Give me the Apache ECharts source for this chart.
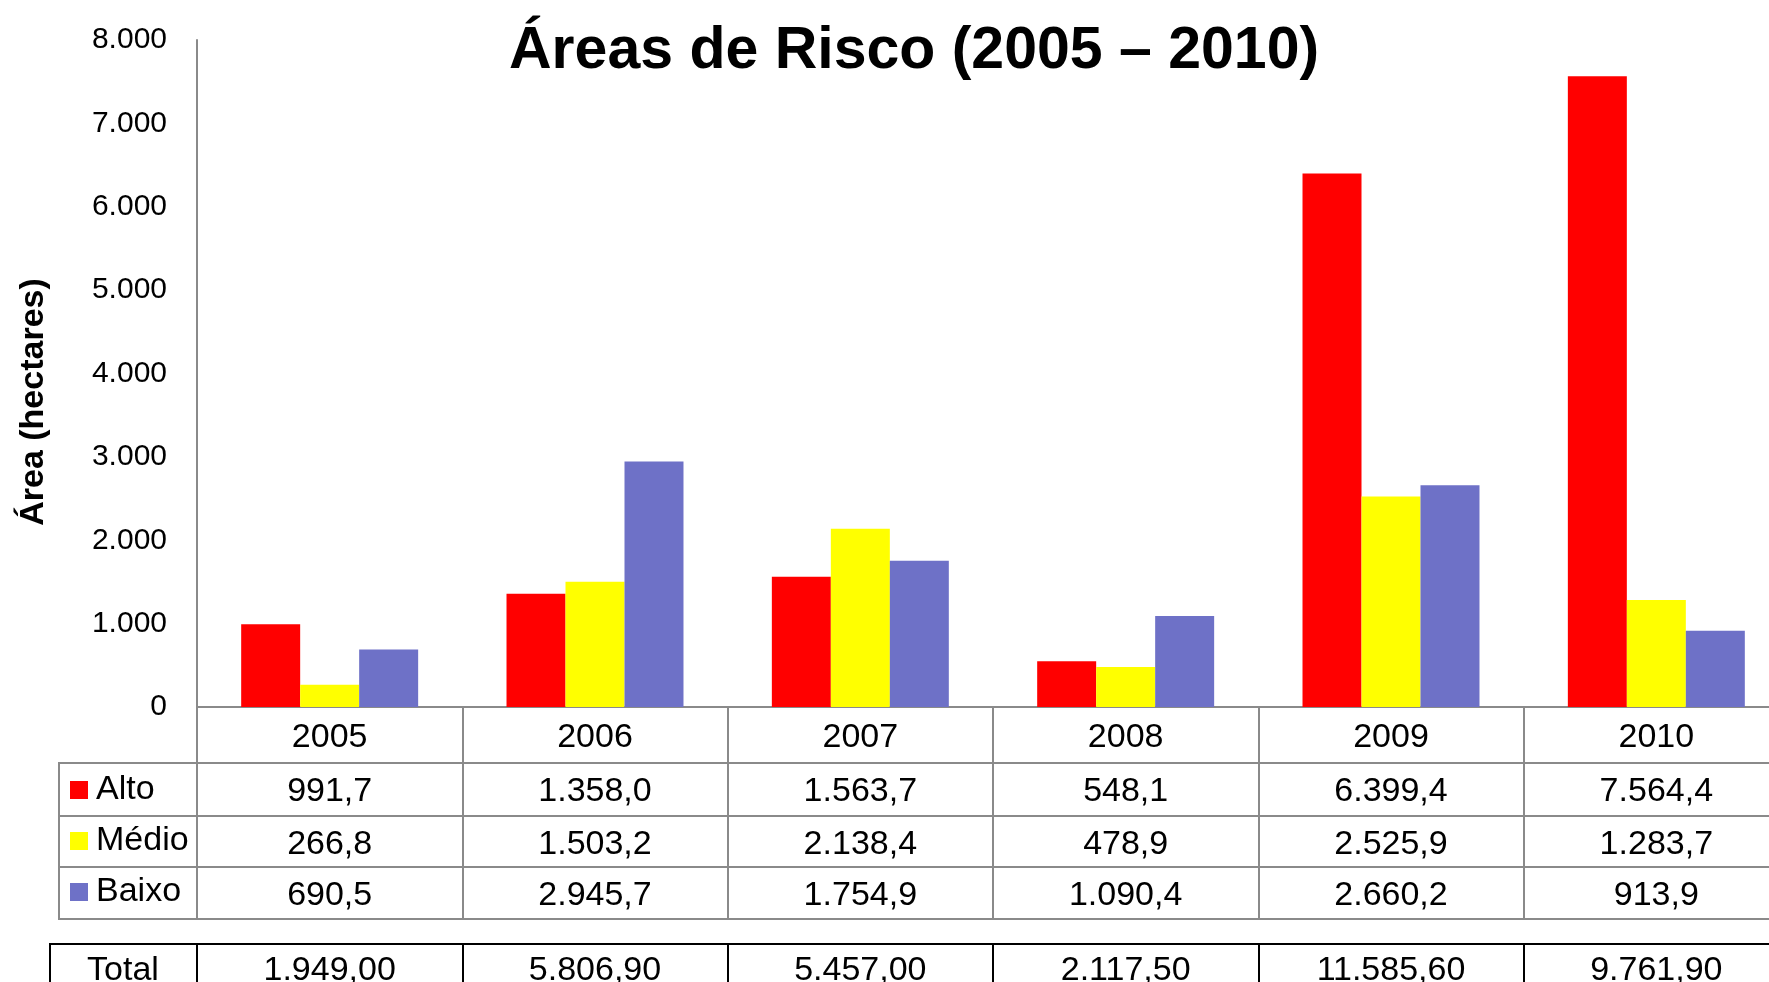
<!DOCTYPE html>
<html>
<head>
<meta charset="utf-8">
<title>Áreas de Risco (2005 – 2010)</title>
<script src="https://cdn.jsdelivr.net/npm/echarts@6/dist/echarts.min.js"></script>
<style>
    html, body { margin: 0; padding: 0; background: #fff; }
    #chart { width: 1769px; height: 982px; }
</style>
</head>
<body>
<div id="chart"></div>
<script>
// data
const years = ['2005', '2006', '2007', '2008', '2009', '2010'];
const alto = [991.7, 1358.0, 1563.7, 548.1, 6399.4, 7564.4];
const medio = [266.8, 1503.2, 2138.4, 478.9, 2525.9, 1283.7];
const baixo = [690.5, 2945.7, 1754.9, 1090.4, 2660.2, 913.9];
const totals = [1949.00, 5806.90, 5457.00, 2117.50, 11585.60, 9761.90];
const seriesNames = ['Alto', 'Médio', 'Baixo'];

const FONT = '"Liberation Sans", Arial, sans-serif';
const GRAY = '#8a8a8a';

// pt-BR number format: 1.358,0
function fmtBR(v, d) {
    let parts = v.toFixed(d).split('.');
    let i = parts[0].replace(/\B(?=(\d{3})+(?!\d))/g, '.');
    return parts[1] ? i + ',' + parts[1] : i;
}

// one table row = one extra category axis under the grid
function rowAxis(offset, values, decimals, opts) {
    opts = opts || {};
    return {
        type: 'category',
        position: 'bottom',
        offset: offset,
        data: years,
        axisLine: { show: true, lineStyle: { color: opts.color || GRAY, width: 2 } },
        axisTick: {
            show: opts.tickLen > 0,
            length: opts.tickLen || 0,
            interval: 0,
            alignWithLabel: false,
            lineStyle: { color: opts.color || GRAY, width: 2 }
        },
        axisLabel: {
            show: !!values,
            interval: 0,
            margin: opts.margin || 29,
            verticalAlign: 'middle',
            fontSize: 34,
            fontFamily: FONT,
            color: '#000',
            formatter: function (v, idx) { return values ? fmtBR(values[idx], decimals) : ''; }
        }
    };
}

let myChart = echarts.init(document.getElementById('chart'));

let opt = {
    animation: false,
    backgroundColor: '#fff',
    color: ['#ff0000', '#ffff00', '#6e71c7'],
    textStyle: { fontFamily: FONT },
    title: {
        text: 'Áreas de Risco (2005 – 2010)',
        left: 504,
        top: 17,
        textStyle: { fontSize: 59, fontWeight: 'bold', color: '#000', fontFamily: FONT }
    },
    legend: {
        orient: 'vertical',
        left: 65,
        top: 768,
        itemWidth: 18,
        itemHeight: 18,
        itemGap: 17,
        icon: 'rect',
        selectedMode: false,
        data: seriesNames,
        textStyle: { fontSize: 34, lineHeight: 34, color: '#000', fontFamily: FONT, padding: [0, 0, 0, 3] }
    },
    grid: {
        left: 197,
        top: 40,
        width: 1592,
        height: 667,
        containLabel: false,
        outerBoundsMode: 'none'
    },
    xAxis: [
        {
            type: 'category',
            position: 'bottom',
            data: years,
            axisLine: { show: true, lineStyle: { color: GRAY, width: 2 } },
            axisTick: { show: true, length: 56, interval: 0, alignWithLabel: false, lineStyle: { color: GRAY, width: 2 } },
            axisLabel: { interval: 0, margin: 31, verticalAlign: 'middle', fontSize: 34, fontFamily: FONT, color: '#000' }
        },
        rowAxis(56, alto, 1, { tickLen: 53 }),
        rowAxis(109, medio, 1, { tickLen: 51 }),
        rowAxis(160, baixo, 1, { tickLen: 52 }),
        rowAxis(212, null, 0, { tickLen: 0 }),
        rowAxis(237, totals, 2, { tickLen: 60, color: '#000', margin: 27 })
    ],
    yAxis: {
        type: 'value',
        min: 0,
        max: 8000,
        interval: 1000,
        axisLine: { show: true, lineStyle: { color: GRAY, width: 2 } },
        axisTick: { show: false },
        splitLine: { show: false },
        axisLabel: {
            margin: 30,
            fontSize: 30,
            fontFamily: FONT,
            color: '#000',
            formatter: function (v) { return fmtBR(v, 0); }
        }
    },
    series: [
        { name: 'Alto', type: 'bar', data: alto, barGap: 0, barCategoryGap: '33.3%' },
        { name: 'Médio', type: 'bar', data: medio, barGap: 0, barCategoryGap: '33.3%' },
        { name: 'Baixo', type: 'bar', data: baixo, barGap: 0, barCategoryGap: '33.3%' }
    ],
    graphic: [
        // y axis title
        {
            type: 'text',
            x: 34,
            y: 402,
            rotation: Math.PI / 2,
            style: {
                text: 'Área (hectares)',
                font: 'bold 34px ' + FONT,
                fill: '#000',
                align: 'center',
                verticalAlign: 'middle'
            }
        },
        // legend column of the table
        {
            type: 'rect',
            shape: { x: 59, y: 763, width: 138, height: 156 },
            style: { fill: 'none', stroke: GRAY, lineWidth: 2 }
        },
        { type: 'line', shape: { x1: 59, y1: 816, x2: 197, y2: 816 }, style: { stroke: GRAY, lineWidth: 2 } },
        { type: 'line', shape: { x1: 59, y1: 867, x2: 197, y2: 867 }, style: { stroke: GRAY, lineWidth: 2 } },
        // total cell
        {
            type: 'rect',
            shape: { x: 50, y: 944, width: 147, height: 80 },
            style: { fill: 'none', stroke: '#000', lineWidth: 2 }
        },
        {
            type: 'text',
            x: 123,
            y: 971,
            style: { text: 'Total', font: '34px ' + FONT, fill: '#000', align: 'center', verticalAlign: 'middle' }
        }
    ]
};

myChart.setOption(opt);
</script>
</body>
</html>
